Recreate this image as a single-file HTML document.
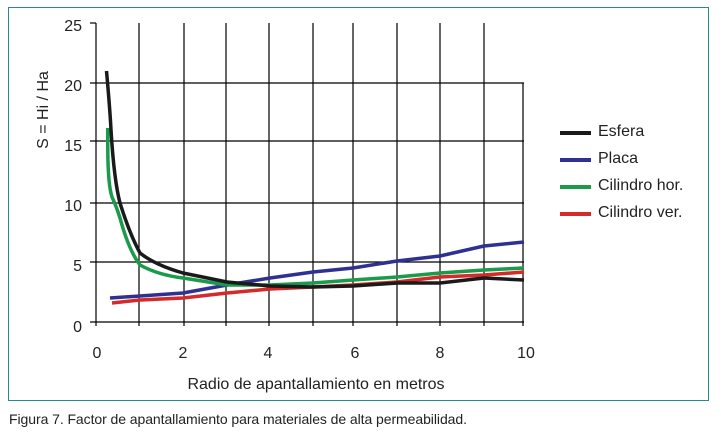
<!DOCTYPE html>
<html><head><meta charset="utf-8"><style>
body{margin:0;background:#fff;}
svg{display:block;font-family:"Liberation Sans",sans-serif;}
</style></head><body>
<svg width="721" height="434" viewBox="0 0 721 434">
<rect x="8.5" y="7.5" width="700" height="393" fill="#fff" stroke="#2a8a8a" stroke-width="1"/>
<g stroke="#000" stroke-width="1.2">
<line x1="96" y1="23" x2="96" y2="322"/>
<line x1="90" y1="322" x2="524" y2="322"/>
<line x1="90" y1="23" x2="96" y2="23"/>
<line x1="90" y1="83" x2="524" y2="83"/>
<line x1="90" y1="141" x2="524" y2="141"/>
<line x1="90" y1="203" x2="524" y2="203"/>
<line x1="90" y1="262" x2="524" y2="262"/>
<line x1="139" y1="23" x2="139" y2="326"/>
<line x1="184" y1="23" x2="184" y2="326"/>
<line x1="226" y1="23" x2="226" y2="326"/>
<line x1="269" y1="23" x2="269" y2="326"/>
<line x1="313" y1="23" x2="313" y2="326"/>
<line x1="353" y1="23" x2="353" y2="326"/>
<line x1="397" y1="23" x2="397" y2="326"/>
<line x1="440" y1="23" x2="440" y2="326"/>
<line x1="484" y1="23" x2="484" y2="326"/>
<line x1="523" y1="83" x2="523" y2="326"/>
<line x1="96" y1="322" x2="96" y2="326"/>
</g>
<g font-size="16" fill="#222" text-anchor="end">
<text x="82" y="31">25</text><text x="82" y="91">20</text><text x="82" y="151">15</text>
<text x="82" y="211">10</text><text x="82" y="271">5</text><text x="82" y="332">0</text>
</g>
<g font-size="16" fill="#222" text-anchor="middle">
<text x="97" y="358">0</text><text x="183" y="358">2</text><text x="268" y="358">4</text>
<text x="355" y="358">6</text><text x="440" y="358">8</text><text x="526" y="358">10</text>
<text x="316" y="389">Radio de apantallamiento en metros</text>
<text transform="translate(48,110) rotate(-90)">S = Hi / Ha</text>
</g>
<g fill="none" stroke-width="3.5" stroke-linejoin="round" stroke-linecap="butt">
<polyline stroke="#2e3192" points="110,298 140,296 183,293 227,285 270,278 313,272 353,268 397,261 440,256 484,246 524,242"/>
<polyline stroke="#d42a2a" points="112,303 140,300 183,298 227,293 270,289 313,287 353,285 397,282 440,277 484,275 524,272"/>
<path stroke="#1a9a4a" d="M107.7,128 L107.8,150 Q108,185 112,197 Q118,210 122,225 Q130,252 140,265 Q158,275 183,278 L227,285 L270,285 L313,283 L353,280 L397,277 L440,273 L484,270 L524,268"/>
<path stroke="#1a1a1a" d="M106.5,71 Q110,110 111,130 Q114,180 120,203 Q130,235 140,253 Q155,265 183,273 L227,282 L270,286 L313,287 L353,286 L397,283 L440,283 L484,278 L524,280"/>
</g>
<g stroke-width="4">
<line x1="560" y1="133" x2="591" y2="133" stroke="#1a1a1a"/>
<line x1="560" y1="160" x2="591" y2="160" stroke="#2e3192"/>
<line x1="560" y1="187" x2="591" y2="187" stroke="#1a9a4a"/>
<line x1="560" y1="214" x2="591" y2="214" stroke="#d42a2a"/>
</g>
<g font-size="16" fill="#222">
<text x="598" y="136">Esfera</text><text x="598" y="163">Placa</text>
<text x="598" y="190">Cilindro hor.</text><text x="598" y="217">Cilindro ver.</text>
</g>
<text x="9" y="424" font-size="14" fill="#222" textLength="458">Figura 7. Factor de apantallamiento para materiales de alta permeabilidad.</text>
</svg>
</body></html>
